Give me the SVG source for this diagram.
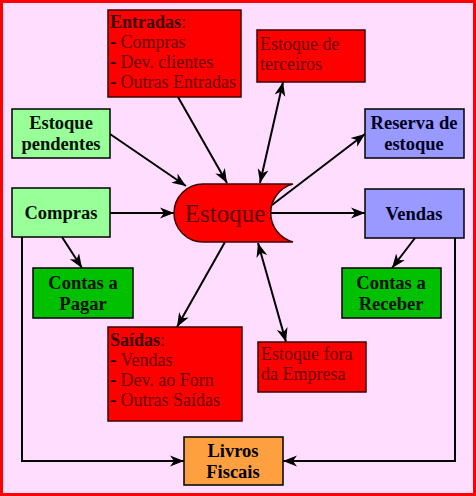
<svg xmlns="http://www.w3.org/2000/svg" width="476" height="496" viewBox="0 0 476 496">
<defs>
<marker id="ah" markerUnits="userSpaceOnUse" markerWidth="15" markerHeight="12" refX="14" refY="6" orient="auto-start-reverse" viewBox="0 0 15 12">
<path d="M0,0.5 L14,6 L0,11.5 L4,6 Z" fill="#000"/>
</marker>
<style>
.bx{stroke:#000;stroke-width:1.5}
.red{fill:#FF0000;stroke:#400000;stroke-width:1.5}
.lg{fill:#99FF99}
.dg{fill:#00C000}
.bl{fill:#9999FF}
.or{fill:#FFA040}
.bt{font-family:"Liberation Serif","Times New Roman",serif;font-weight:bold;font-size:18.5px;text-anchor:middle;fill:#001000}
.rt{font-family:"Liberation Serif","Times New Roman",serif;font-size:18px;fill:#680000}
.hd{font-weight:bold;fill:#380000}
.ds{font-weight:bold;fill:#000}
.ln{stroke:#000;stroke-width:2;fill:none}
.ar{marker-end:url(#ah)}
.ar2{marker-start:url(#ah);marker-end:url(#ah)}
</style>
</defs>
<rect x="1.5" y="1.5" width="473" height="493" fill="#FFDDFF" stroke="#FF0000" stroke-width="3"/>

<g id="connectors">
<line class="ln ar" x1="178" y1="97" x2="227" y2="183"/>
<line class="ln ar2" x1="283" y1="82" x2="260" y2="183"/>
<line class="ln ar" x1="110" y1="134" x2="186" y2="186"/>
<line class="ln ar" x1="110" y1="213" x2="174" y2="213"/>
<line class="ln ar" x1="272" y1="205" x2="365" y2="134"/>
<line class="ln ar" x1="271" y1="213" x2="365" y2="213"/>
<line class="ln ar" x1="62" y1="237" x2="82" y2="268"/>
<line class="ln ar" x1="415" y1="238" x2="392" y2="268"/>
<line class="ln ar" x1="225" y1="242" x2="177" y2="327"/>
<line class="ln ar2" x1="258" y1="243" x2="286" y2="342"/>
<polyline class="ln ar" points="22,237 22,461 184,461"/>
<polyline class="ln ar" points="455,238 455,461 283,461"/>
</g>

<g id="estoque">
<path class="red" d="M203,184 L293,184 A30,30 0 0 0 293,242 L203,242 A29,29 0 0 1 203,184 Z"/>
<text x="225" y="222" style="font-family:'Liberation Serif','Times New Roman',serif;font-size:25px;fill:#600000;text-anchor:middle">Estoque</text>
</g>

<g id="entradas">
<rect class="red" x="108" y="10" width="133" height="87"/>
<text class="rt" x="110" y="28"><tspan class="hd">Entradas</tspan>:</text>
<text class="rt" x="110" y="48"><tspan class="ds">- </tspan>Compras</text>
<text class="rt" x="110" y="68"><tspan class="ds">- </tspan>Dev. clientes</text>
<text class="rt" x="110" y="88"><tspan class="ds">- </tspan>Outras Entradas</text>
</g>

<g id="terceiros">
<rect class="red" x="257" y="30" width="108" height="52"/>
<text class="rt" x="260" y="50">Estoque de</text>
<text class="rt" x="260" y="70">terceiros</text>
</g>

<g id="pendentes">
<rect class="bx lg" x="12" y="109" width="98" height="49"/>
<text class="bt" x="61" y="129">Estoque</text>
<text class="bt" x="61" y="150">pendentes</text>
</g>

<g id="compras">
<rect class="bx lg" x="12" y="188" width="98" height="49"/>
<text class="bt" x="61" y="219">Compras</text>
</g>

<g id="pagar">
<rect class="bx dg" x="33" y="268" width="100" height="50"/>
<text class="bt" x="83" y="289">Contas a</text>
<text class="bt" x="83" y="310">Pagar</text>
</g>

<g id="reserva">
<rect class="bx bl" x="365" y="109" width="99" height="49"/>
<text class="bt" x="414" y="129" style="fill:#000020">Reserva de</text>
<text class="bt" x="414" y="150" style="fill:#000020">estoque</text>
</g>

<g id="vendas">
<rect class="bx bl" x="365" y="189" width="99" height="49"/>
<text class="bt" x="414" y="220" style="fill:#000020">Vendas</text>
</g>

<g id="receber">
<rect class="bx dg" x="342" y="268" width="99" height="50"/>
<text class="bt" x="391" y="289">Contas a</text>
<text class="bt" x="391" y="310">Receber</text>
</g>

<g id="saidas">
<rect class="red" x="108" y="327" width="134" height="94"/>
<text class="rt" x="110" y="346"><tspan class="hd">Saídas</tspan>:</text>
<text class="rt" x="110" y="366"><tspan class="ds">- </tspan>Vendas</text>
<text class="rt" x="110" y="386"><tspan class="ds">- </tspan>Dev. ao Forn</text>
<text class="rt" x="110" y="406"><tspan class="ds">- </tspan>Outras Saídas</text>
</g>

<g id="fora">
<rect class="red" x="258" y="342" width="108" height="50"/>
<text class="rt" x="261" y="360">Estoque fora</text>
<text class="rt" x="261" y="380">da Empresa</text>
</g>

<g id="livros">
<rect class="bx or" x="184" y="437" width="99" height="48"/>
<text class="bt" x="233" y="457" style="fill:#000">Livros</text>
<text class="bt" x="233" y="478" style="fill:#000">Fiscais</text>
</g>
</svg>
